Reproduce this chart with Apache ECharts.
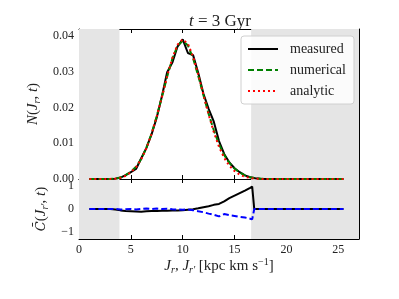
<!DOCTYPE html>
<html><head><meta charset="utf-8">
<script src="https://cdn.jsdelivr.net/npm/echarts@6/dist/echarts.min.js"></script>
<style>html,body{margin:0;padding:0;background:#fff}#c{width:399px;height:299px}</style>
</head><body><div id="c"></div>
<script>
// ---- data ----
const jr = [1.0,1.5,2.0,2.5,3.0,3.5,4.0,4.5,5.0,5.5,6.0,6.5,7.0,7.5,8.0,8.5,9.0,9.5,10.0,10.5,11.0,11.5,12.0,12.5,13.0,13.5,14.0,14.5,15.0,15.5,16.0,16.5,17.0,17.5,18.0,18.5,19.0,19.5,20.0,20.5,21.0,21.5,22.0,22.5,23.0,23.5,24.0,24.5,25.0,25.5];
const measured = [0,0,0,0,0.00002,0.0001,0.0004,0.0011,0.0019,0.0028,0.0058,0.0087,0.0125,0.0172,0.0232,0.0298,0.0325,0.0370,0.0390,0.0352,0.0346,0.0296,0.0238,0.0196,0.0160,0.0106,0.0070,0.0046,0.0030,0.0019,0.0010,0.0005,0.0002,0.00005,0,0,0,0,0,0,0,0,0,0,0,0,0,0,0,0];
const numerical = [0,0,0,0,0.00003,0.0001,0.0004,0.0011,0.0020,0.0034,0.0056,0.0087,0.0127,0.0176,0.0230,0.0286,0.0336,0.0372,0.0386,0.0373,0.0337,0.0288,0.0234,0.0182,0.0136,0.0097,0.0067,0.0045,0.0029,0.0018,0.0010,0.0005,0.0002,0.0001,0.00003,0,0,0,0,0,0,0,0,0,0,0,0,0,0,0,0];
const analytic = [0,0,0,0,0.00002,0.0001,0.0003,0.0009,0.0019,0.0033,0.0055,0.0086,0.0126,0.0175,0.0230,0.0287,0.0338,0.0375,0.0390,0.0378,0.0342,0.0292,0.0235,0.0180,0.0131,0.0090,0.0059,0.0037,0.0022,0.0012,0.0006,0.0003,0.0001,0.00003,0,0,0,0,0,0,0,0,0,0,0,0,0,0,0,0];

const jrC = [1.0,1.5,2.0,2.5,3.0,3.5,4.0,4.5,5.0,5.5,6.0,6.5,7.0,7.5,8.0,8.5,9.0,9.5,10.0,10.5,11.0,11.5,12.0,12.5,13.0,13.5,14.0,14.5,15.0,15.5,16.0,16.5,16.7,16.9,17.5,18.0,18.5,19.0,19.5,20.0,20.5,21.0,21.5,22.0,22.5,23.0,23.5,24.0,24.5,25.0,25.5];
const cMeasured = [0,0,0,0,0,-0.02,-0.06,-0.09,-0.10,-0.11,-0.12,-0.10,-0.09,-0.09,-0.08,-0.08,-0.07,-0.07,-0.05,-0.03,-0.01,0.03,0.08,0.12,0.18,0.22,0.33,0.47,0.58,0.69,0.80,0.92,0.97,0,0,0,0,0,0,0,0,0,0,0,0,0,0,0,0,0,0];
const cNumerical = [0,0,0,0,0,0,-0.02,-0.01,0,-0.02,0,0.02,0,0.02,0,0.01,-0.01,-0.02,-0.03,-0.02,-0.05,-0.10,-0.14,-0.20,-0.25,-0.32,-0.22,-0.27,-0.30,-0.34,-0.37,-0.42,-0.45,0,0,0,0,0,0,0,0,0,0,0,0,0,0,0,0,0,0];

const shadeRanges = [[0, 3.9], [16.6, 27]];
const xTicks = [0, 5, 10, 15, 20, 25];
const yTicksTop = [0, 0.01, 0.02, 0.03, 0.04];
const yTicksBottom = [-1, 0, 1];
const legendNames = ['measured', 'numerical', 'analytic'];

// ---- chart ----
const FONT = 'Liberation Serif';
const TXT = '#222';
const chart = echarts.init(document.getElementById('c'), null, {renderer: 'canvas'});
const pairs = (xs, ys) => xs.map((x, i) => [x, ys[i]]);
const shade = {
  silent: true,
  itemStyle: {color: '#e5e5e5'},
  data: shadeRanges.map(r => [{xAxis: r[0]}, {xAxis: r[1]}])
};
const lineAxis = {lineStyle: {color: '#000', width: 1}};
function xAx(grid, pos, labels) {
  return {
    type: 'value', gridIndex: grid, position: pos, min: 0, max: 27,
    axisLine: Object.assign({show: true, onZero: false}, lineAxis),
    axisTick: {show: true, inside: true, length: 4, customValues: xTicks, lineStyle: {color: '#000'}},
    axisLabel: {show: labels, customValues: xTicks, fontFamily: FONT, fontSize: 12, color: TXT, margin: 5},
    splitLine: {show: false}
  };
}
function yAx(grid, pos, labels, ticks, min, max, fmt) {
  return {
    type: 'value', gridIndex: grid, position: pos, min: min, max: max,
    axisLine: Object.assign({show: true, onZero: false}, lineAxis),
    axisTick: {show: true, inside: true, length: 4, customValues: ticks, lineStyle: {color: '#000'}},
    axisLabel: {show: labels, customValues: ticks, fontFamily: FONT, fontSize: 12, color: TXT, margin: 5, formatter: fmt},
    splitLine: {show: false}
  };
}
const rich = {
  i: {fontFamily: FONT, fontStyle: 'italic', fontSize: 15, color: TXT, lineHeight: 18},
  c: {fontFamily: 'DejaVu Serif', fontStyle: 'italic', fontSize: 13, color: TXT, lineHeight: 18},
  n: {fontFamily: FONT, fontSize: 15, color: TXT, lineHeight: 18},
  sub: {fontFamily: FONT, fontStyle: 'italic', fontSize: 10, color: TXT, lineHeight: 18, verticalAlign: 'bottom'},
  sup: {fontFamily: FONT, fontSize: 10, color: TXT, lineHeight: 18, verticalAlign: 'top'}
};

const xAxes = [xAx(0, 'bottom', false), xAx(0, 'top', false), xAx(1, 'bottom', true), xAx(1, 'top', false)];
xAxes[2].name = '{i|J}{sub|r}{n|, }{i|J}{sub|r′}{n| [kpc km s}{sup|−1}{n|]}';
xAxes[2].nameLocation = 'middle';
xAxes[2].nameGap = 16;
xAxes[2].nameTextStyle = {rich: rich};

const yAxes = [
  yAx(0, 'left', true, yTicksTop, 0, 0.0419, v => v.toFixed(2)),
  yAx(0, 'right', false, yTicksTop, 0, 0.0419),
  yAx(1, 'left', true, yTicksBottom, -1.3, 1.3, v => (v < 0 ? '−' + Math.abs(v) : String(v))),
  yAx(1, 'right', false, yTicksBottom, -1.3, 1.3)
];
yAxes[0].name = '{i|N}{n|(}{i|J}{sub|r}{n|, }{i|t}{n|)}';
yAxes[0].nameLocation = 'middle';
yAxes[0].nameGap = 28;
yAxes[0].nameTextStyle = {rich: rich};
yAxes[2].name = '{c|C̄}{n|(}{i|J}{sub|r′}{n|, }{i|t}{n|)}';
yAxes[2].nameLocation = 'middle';
yAxes[2].nameGap = 28;
yAxes[2].nameTextStyle = {rich: rich};

chart.setOption({
  animation: false,
  backgroundColor: '#fff',
  title: {
    text: '{i|t}{n| = 3 Gyr}',
    left: 215, top: 8, textAlign: 'center',
    textStyle: {fontWeight: 'normal', rich: {
      i: {fontFamily: FONT, fontStyle: 'italic', fontWeight: 'normal', fontSize: 17, color: TXT},
      n: {fontFamily: FONT, fontWeight: 'normal', fontSize: 17, color: TXT}
    }}
  },
  legend: {
    data: legendNames,
    orient: 'vertical', left: 241, top: 36,
    padding: [6, 8, 6, 6],
    itemWidth: 30, itemHeight: 14, itemGap: 7,
    itemStyle: {opacity: 0},
    backgroundColor: 'rgba(255,255,255,0.85)',
    borderColor: '#d0d0d0', borderWidth: 1, borderRadius: 3,
    textStyle: {fontFamily: FONT, fontSize: 14, color: TXT, padding: [0, 0, 0, 7]}
  },
  grid: [
    {left: 79, top: 29, width: 280, height: 150, containLabel: false},
    {left: 79, top: 179, width: 280, height: 60, containLabel: false}
  ],
  xAxis: xAxes,
  yAxis: yAxes,
  series: [
    {name: 'measured', type: 'line', xAxisIndex: 0, yAxisIndex: 0, data: pairs(jr, measured),
     symbol: 'none', lineStyle: {color: '#000', width: 2}, itemStyle: {color: '#000'}, markArea: shade, z: 2},
    {name: 'numerical', type: 'line', xAxisIndex: 0, yAxisIndex: 0, data: pairs(jr, numerical),
     symbol: 'none', lineStyle: {color: '#008000', width: 2, type: [6, 3]}, itemStyle: {color: '#008000'}, z: 3},
    {name: 'analytic', type: 'line', xAxisIndex: 0, yAxisIndex: 0, data: pairs(jr, analytic),
     symbol: 'none', lineStyle: {color: '#ff0000', width: 2, type: [2, 3]}, itemStyle: {color: '#ff0000'}, z: 4},
    {name: 'C measured', type: 'line', xAxisIndex: 2, yAxisIndex: 2, data: pairs(jrC, cMeasured),
     symbol: 'none', lineStyle: {color: '#000', width: 2}, markArea: shade, z: 2},
    {name: 'C numerical', type: 'line', xAxisIndex: 2, yAxisIndex: 2, data: pairs(jrC, cNumerical),
     symbol: 'none', lineStyle: {color: '#0000ff', width: 2, type: [6, 3]}, z: 3}
  ]
});
</script></body></html>
